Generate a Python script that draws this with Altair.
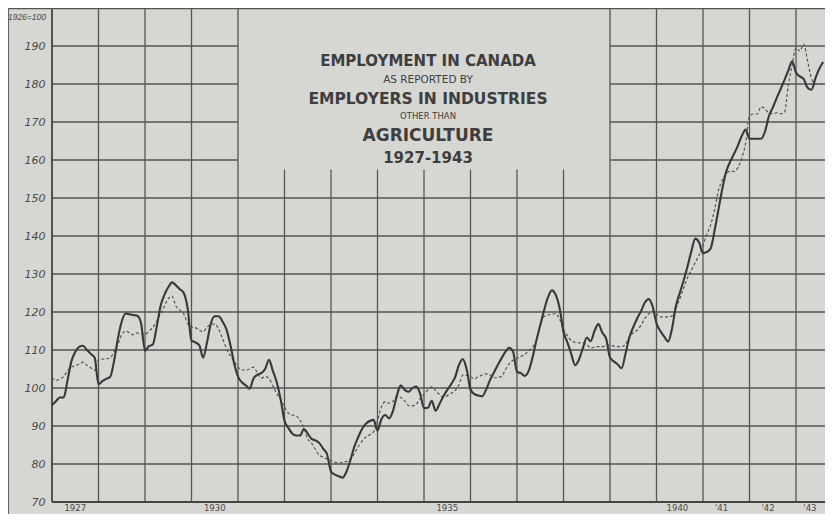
import altair as alt
import pandas as pd

# ---------------- data (index, 1926 = 100), monthly ----------------
SOLID_1927 = [95.5, 96.5, 97.5, 97.5, 102, 107, 109.5, 110.8, 111.1, 110, 109, 108]
SOLID_1928 = [101, 101.8, 102.4, 102.9, 107, 113, 117.5, 119.6, 119.4, 119.2, 119, 117]
SOLID_1929 = [109.8, 111, 111.4, 116, 121.5, 124.5, 126.5, 127.8, 127, 126, 125, 121]
SOLID_1930 = [112.5, 112, 111.3, 108, 112, 117, 118.9, 118.9, 117.5, 115.5, 111.5, 106.5]
SOLID_1931 = [103, 101.5, 100.7, 99.8, 102.5, 103.5, 103.9, 105, 107.4, 104.5, 101.5, 97]
SOLID_1932 = [91.4, 89.5, 88, 87.5, 87.5, 89.2, 88, 86.6, 86.2, 85.5, 84, 82.5]
SOLID_1933 = [78, 77.2, 76.8, 76.4, 78, 81, 84.5, 87, 89.2, 90.6, 91.3, 91.6]
SOLID_1934 = [88.8, 91.8, 92.9, 92, 94, 98, 100.7, 99.5, 99, 100, 100.4, 98.5]
SOLID_1935 = [94.7, 94.8, 96.6, 94, 95.8, 97.8, 99.5, 101, 102.8, 106, 107.6, 105]
SOLID_1936 = [99.6, 98.4, 98, 97.8, 99.5, 102, 104, 106, 107.8, 109.5, 110.6, 109.5]
SOLID_1937 = [104.3, 103.9, 103.2, 104.5, 108, 112.5, 116.5, 120.5, 123.9, 125.7, 124.5, 121]
SOLID_1938 = [114.8, 112, 109, 106, 107.5, 110.5, 113.3, 112.3, 115, 116.8, 114.6, 113]
SOLID_1939 = [108, 107, 106.2, 105.2, 109, 113.3, 116, 118.3, 120.2, 122.5, 123.4, 121.5]
SOLID_1940 = [117, 115, 113.5, 112.2, 115.6, 121.5, 125, 128.3, 132, 136, 139.3, 138.3]
SOLID_1941 = [135.5, 135.8, 136.8, 141.5, 147, 152.5, 157, 159.5, 161.6, 163.8, 166.3, 168]
SOLID_1942 = [165.6, 165.6, 165.6, 165.6, 167.5, 171.5, 173.8, 176.3, 178.6, 181, 183.5, 186]
SOLID_1943 = [183, 182, 181.3, 179, 178.5, 181.5, 184, 185.8]

DASHED_1927 = [102.7, 102, 102.3, 103, 104.5, 105.5, 105.9, 106.3, 106.8, 106, 105.3, 104.6]
DASHED_1928 = [107.5, 107.6, 107.7, 107.9, 109.5, 111.5, 114, 115, 114.5, 114, 114.5, 114.3]
DASHED_1929 = [114.1, 115, 115.9, 117.5, 119.5, 121.5, 123.5, 124.2, 121.5, 120.5, 119.5, 117]
DASHED_1930 = [116, 115.9, 115.2, 114.8, 116, 116.7, 116.9, 115.5, 113, 110.5, 108.5, 107]
DASHED_1931 = [105.5, 104.8, 104.7, 105, 105.5, 104, 102.6, 103, 102.5, 100.5, 98.5, 97]
DASHED_1932 = [95, 93.4, 92.9, 92.7, 91.5, 89.5, 86.6, 85.5, 83.8, 82.3, 81.8, 81.3]
DASHED_1933 = [80.9, 80.5, 80.3, 80.4, 80.7, 81.2, 82.7, 84.5, 86, 87.1, 87.7, 88.5]
DASHED_1934 = [91.4, 95, 96.4, 96, 96.5, 97.8, 97.5, 96.6, 95.4, 95.3, 95.7, 97.2]
DASHED_1935 = [98.3, 99.5, 100.3, 99.3, 98.3, 97.6, 98, 98.6, 99.3, 100.8, 103.4, 103.3]
DASHED_1936 = [103, 102.4, 103, 103.4, 103.7, 103.5, 102.7, 102.8, 103, 104.8, 106.4, 107.3]
DASHED_1937 = [107.8, 108.3, 108.8, 109.8, 110.8, 112.5, 116.5, 118.8, 119.2, 119.4, 119.6, 118]
DASHED_1938 = [115.5, 113.8, 112.5, 112, 111.9, 111.8, 111.5, 110.5, 110.8, 110.9, 110.9, 111]
DASHED_1939 = [111.3, 111, 110.9, 110.9, 111.5, 113.5, 114.5, 115.2, 116.5, 118.3, 119.5, 120.3]
DASHED_1940 = [119.5, 118.7, 118.7, 118.7, 119, 121, 123.5, 126.3, 129, 131, 133, 135]
DASHED_1941 = [137.5, 140.5, 143, 147, 152, 154.8, 156.4, 157, 157, 158, 160.5, 164.5]
DASHED_1942 = [171.5, 172.1, 172.1, 174, 173.5, 172.3, 172.2, 172.4, 172.2, 172.5, 179.5, 185]
DASHED_1943 = [189.5, 188.7, 190.5, 186, 181.5, 180, 180, 180]

SOLID = [SOLID_1927, SOLID_1928, SOLID_1929, SOLID_1930, SOLID_1931, SOLID_1932,
         SOLID_1933, SOLID_1934, SOLID_1935, SOLID_1936, SOLID_1937, SOLID_1938,
         SOLID_1939, SOLID_1940, SOLID_1941, SOLID_1942, SOLID_1943]
DASHED = [DASHED_1927, DASHED_1928, DASHED_1929, DASHED_1930, DASHED_1931, DASHED_1932,
          DASHED_1933, DASHED_1934, DASHED_1935, DASHED_1936, DASHED_1937, DASHED_1938,
          DASHED_1939, DASHED_1940, DASHED_1941, DASHED_1942, DASHED_1943]
FIRST_YEAR = 1927

Y_TICKS = list(range(70, 200, 10))
X_LABEL_POS = [1927.5, 1930.5, 1935.5, 1940.45, 1941.4, 1942.4, 1943.3]
X_LABEL_TEXT = ["1927", "1930", "1935", "1940", "'41", "'42", "'43"]
TITLE_LINES = ["EMPLOYMENT IN CANADA", "AS REPORTED BY", "EMPLOYERS IN INDUSTRIES",
               "OTHER THAN", "AGRICULTURE", "1927-1943"]
TITLE_Y = [53, 71.5, 90.5, 108, 128, 149.5]
TITLE_SIZE = [15, 10.5, 15.5, 8.5, 17, 15]
TITLE_WEIGHT = ["bold", "normal", "bold", "normal", "bold", "bold"]

# ---------------- layout ----------------
W, H = 773, 494
PAD_L = 44
X_END = 1927 + W / 46.5
Y_MIN, Y_MAX = 70, 200
BOX_X0, BOX_X1, BOX_Y0 = 1931, 1939, 157.5
BG = "#d6d6d3"
INK = "#3e3e3e"
GRID = "#555555"

def series(rows, name):
    recs = []
    for i, vals in enumerate(rows):
        for m, v in enumerate(vals):
            recs.append({"t": FIRST_YEAR + i + m / 12.0, "v": v, "s": name})
    return pd.DataFrame(recs)

solid_df = series(SOLID, "actual")
dashed_df = series(DASHED, "trend")

# grid segments (a blank box is left for the title)
hseg = []
for v in Y_TICKS[1:]:
    if v > BOX_Y0:
        hseg.append({"x1": 1927, "x2": BOX_X0, "y1": v, "y2": v})
        hseg.append({"x1": BOX_X1, "x2": X_END, "y1": v, "y2": v})
    else:
        hseg.append({"x1": 1927, "x2": X_END, "y1": v, "y2": v})
for yr in range(FIRST_YEAR + 1, 1944):
    top = BOX_Y0 if BOX_X0 < yr < BOX_X1 else Y_MAX
    hseg.append({"x1": yr, "x2": yr, "y1": Y_MIN, "y2": top})
grid_df = pd.DataFrame(hseg)

frame_df = pd.DataFrame([
    {"x1": 1927, "x2": 1927, "y1": Y_MIN, "y2": Y_MAX},
    {"x1": 1927, "x2": X_END, "y1": Y_MIN, "y2": Y_MIN},
])

xs = alt.Scale(domain=[1927, X_END], nice=False, zero=False)
ys = alt.Scale(domain=[Y_MIN, Y_MAX], nice=False, zero=False)
yaxis = alt.Axis(values=Y_TICKS, title=None, ticks=False, domain=False, grid=False,
                 labelPadding=7, labelFont="DejaVu Sans", labelFontStyle="italic",
                 labelFontSize=11, labelColor="#4a4a4a")

grid = alt.Chart(grid_df).mark_rule(color=GRID, strokeWidth=1.3).encode(
    x=alt.X("x1:Q", scale=xs, axis=None), x2="x2:Q",
    y=alt.Y("y1:Q", scale=ys, axis=yaxis), y2="y2:Q")

frame = alt.Chart(frame_df).mark_rule(color="#444444", strokeWidth=1.8).encode(
    x=alt.X("x1:Q", scale=xs, axis=None), x2="x2:Q",
    y=alt.Y("y1:Q", scale=ys, axis=yaxis), y2="y2:Q")

top_line = alt.Chart(pd.DataFrame({"a": [0]})).mark_rule(
    color="#555555", strokeWidth=1.5, clip=False).encode(
    x=alt.value(-44), x2=alt.value(W), y=alt.value(0.5))
left_line = alt.Chart(pd.DataFrame({"a": [0]})).mark_rule(
    color="#666666", strokeWidth=1.2, clip=False).encode(
    x=alt.value(-43.5), y=alt.value(0), y2=alt.value(H + 14))

dashed = alt.Chart(dashed_df).mark_line(
    color="#555555", strokeWidth=1.2, strokeDash=[3, 2.2], interpolate="monotone").encode(
    x=alt.X("t:Q", scale=xs, axis=None), y=alt.Y("v:Q", scale=ys, axis=yaxis))
solid = alt.Chart(solid_df).mark_line(
    color="#383838", strokeWidth=2.1, interpolate="monotone").encode(
    x=alt.X("t:Q", scale=xs, axis=None), y=alt.Y("v:Q", scale=ys, axis=yaxis))

unit_lbl = alt.Chart(pd.DataFrame({"txt": ["1926=100"]})).mark_text(
    align="right", baseline="middle", font="Liberation Sans", fontStyle="italic",
    fontSize=8.5, color="#4a4a4a", clip=False).encode(
    x=alt.value(-6), y=alt.value(9), text="txt:N")

xlab_df = pd.DataFrame({"t": X_LABEL_POS, "txt": X_LABEL_TEXT})
xlabels = alt.Chart(xlab_df).mark_text(
    baseline="top", font="DejaVu Sans", fontSize=8.5, color="#4a4a4a", clip=False).encode(
    x=alt.X("t:Q", scale=xs, axis=None), y=alt.value(H + 2), text="txt:N")

title_marks = []
for txt, ypx, size, wt in zip(TITLE_LINES, TITLE_Y, TITLE_SIZE, TITLE_WEIGHT):
    title_marks.append(
        alt.Chart(pd.DataFrame({"txt": [txt]})).mark_text(
            align="center", baseline="middle", font="DejaVu Sans",
            fontSize=size, fontWeight=wt, color=INK).encode(
            x=alt.value(376), y=alt.value(ypx), text="txt:N"))

chart = alt.layer(grid, frame, top_line, left_line, dashed, solid, unit_lbl, xlabels,
                  *title_marks).properties(
    width=W, height=H,
    autosize=alt.AutoSizeParams(type="none"),
    padding={"left": PAD_L, "top": 0, "right": 0, "bottom": 12},
    background=BG,
).configure_view(stroke=None)

chart.save("out.html", embed_options={"renderer": "svg", "actions": False})
